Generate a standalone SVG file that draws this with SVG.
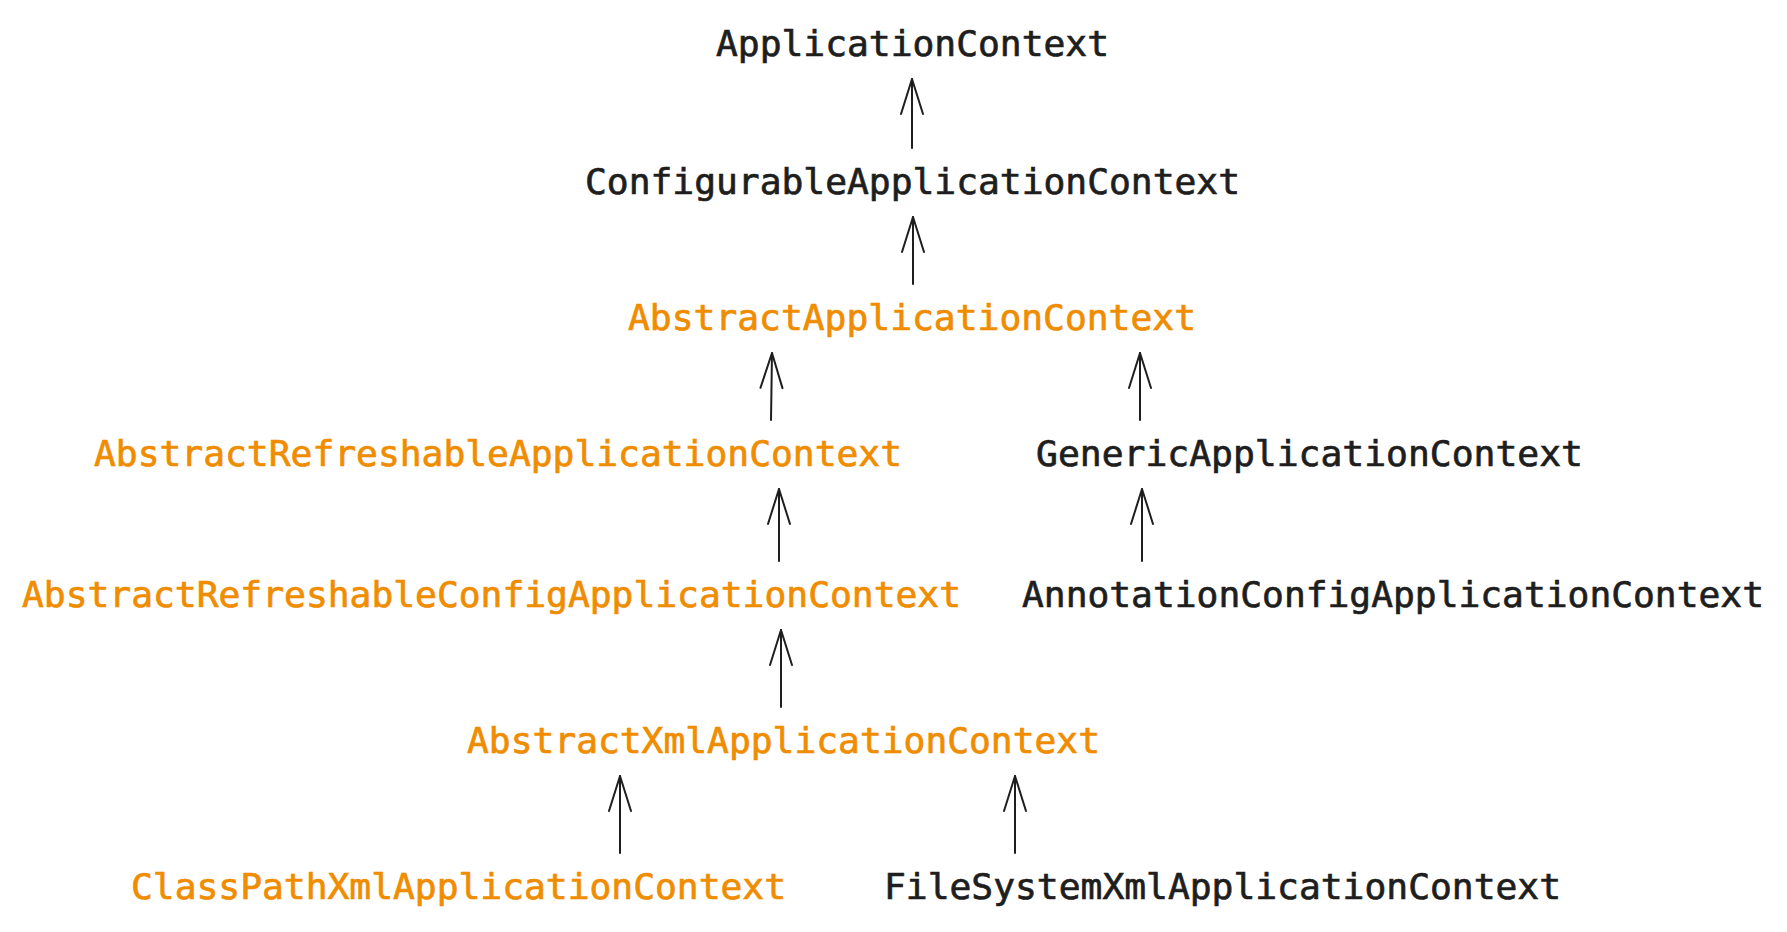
<svg xmlns="http://www.w3.org/2000/svg" width="1787" height="932" viewBox="0 0 1787 932">
<style>
.t{font-family:"DejaVu Sans Mono","Liberation Mono",monospace;font-size:36px;stroke-width:0.7px;}
.k{fill:#1e1e1e;stroke:#1e1e1e;}
.o{fill:#f08c00;stroke:#f08c00;}
.c{fill:none;stroke:#1e1e1e;stroke-width:2;stroke-linecap:round;}
</style>
<defs>
<marker id="ah" markerUnits="userSpaceOnUse" markerWidth="50" markerHeight="40" viewBox="-40 -20 50 40" refX="0" refY="0" orient="auto" overflow="visible">
<path d="M-35,-11 L0,0 L-35,11" fill="none" stroke="#1e1e1e" stroke-width="2" stroke-linecap="round" stroke-linejoin="round"/>
</marker>
</defs>
<rect width="1787" height="932" fill="#ffffff"/>
<g id="connectors">
<path class="c" d="M912,148 L912,79" marker-end="url(#ah)"/>
<path class="c" d="M913,284 L913,217" marker-end="url(#ah)"/>
<path class="c" d="M771,420 L772,353" marker-end="url(#ah)"/>
<path class="c" d="M779,561 L779,489" marker-end="url(#ah)"/>
<path class="c" d="M1140,420 L1140,353" marker-end="url(#ah)"/>
<path class="c" d="M1142,561 L1142,489" marker-end="url(#ah)"/>
<path class="c" d="M781,707 L781,630" marker-end="url(#ah)"/>
<path class="c" d="M620,853 L620,776" marker-end="url(#ah)"/>
<path class="c" d="M1015,853 L1015,776" marker-end="url(#ah)"/>
</g>
<g id="n1"><text class="t k" x="716" y="56" textLength="393" lengthAdjust="spacingAndGlyphs">ApplicationContext</text></g>
<g id="n2"><text class="t k" x="585" y="194" textLength="655" lengthAdjust="spacingAndGlyphs">ConfigurableApplicationContext</text></g>
<g id="n3"><text class="t o" x="628" y="330" textLength="568" lengthAdjust="spacingAndGlyphs">AbstractApplicationContext</text></g>
<g id="n4"><text class="t o" x="94" y="466" textLength="808" lengthAdjust="spacingAndGlyphs">AbstractRefreshableApplicationContext</text></g>
<g id="n5"><text class="t k" x="1036" y="466" textLength="547" lengthAdjust="spacingAndGlyphs">GenericApplicationContext</text></g>
<g id="n6"><text class="t o" x="22" y="607" textLength="939" lengthAdjust="spacingAndGlyphs">AbstractRefreshableConfigApplicationContext</text></g>
<g id="n7"><text class="t k" x="1022" y="607" textLength="742" lengthAdjust="spacingAndGlyphs">AnnotationConfigApplicationContext</text></g>
<g id="n8"><text class="t o" x="467" y="753" textLength="633" lengthAdjust="spacingAndGlyphs">AbstractXmlApplicationContext</text></g>
<g id="n9"><text class="t o" x="131" y="899" textLength="655" lengthAdjust="spacingAndGlyphs">ClassPathXmlApplicationContext</text></g>
<g id="n10"><text class="t k" x="884" y="899" textLength="677" lengthAdjust="spacingAndGlyphs">FileSystemXmlApplicationContext</text></g>
</svg>
